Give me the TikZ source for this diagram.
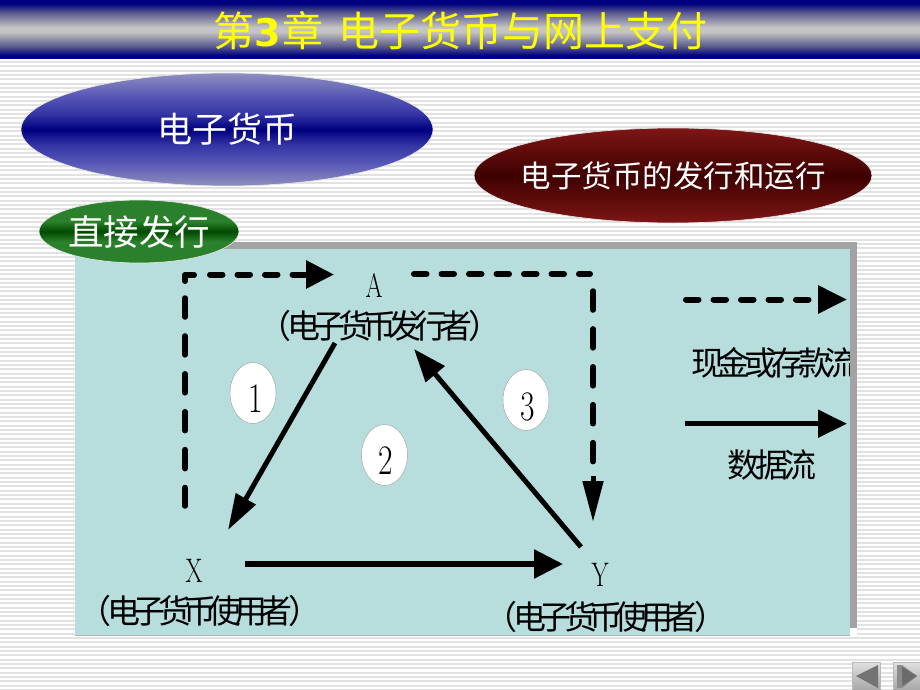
\documentclass[tikz,border=0pt]{standalone}
\usepackage{fontspec}
\usepackage{graphicx}
\usetikzlibrary{shapes.geometric,arrows.meta}
\newfontfamily\cjk{Noto Sans CJK SC}
\newfontfamily\cjktight[LetterSpace=-23]{Noto Sans CJK SC}
\newfontfamily\cjklegend[LetterSpace=-19]{Noto Sans CJK SC}
\newfontfamily\cjkdata[LetterSpace=-15]{Noto Sans CJK SC}
\newfontfamily\boldnum{DejaVu Sans Bold}
\definecolor{navyc}{HTML}{000080}
\definecolor{hdrmid}{HTML}{5C5C90}
\definecolor{hdrlight}{HTML}{C4C4C4}
\definecolor{panelc}{HTML}{B7DEDD}
\definecolor{shadowc}{HTML}{A3A3A3}
\definecolor{stripec}{HTML}{E2E2E2}
\pgfdeclareverticalshading{hdrshade}{100bp}{color(0bp)=(navyc); color(25bp)=(navyc); color(28bp)=(navyc); color(36bp)=(hdrmid); color(48bp)=(hdrlight); color(52bp)=(hdrlight); color(64bp)=(hdrmid); color(72bp)=(navyc); color(75bp)=(navyc); color(100bp)=(navyc)}
\definecolor{bl1}{HTML}{3535A5}\definecolor{bl2}{HTML}{5555B5}\definecolor{bl3}{HTML}{8F8FC0}
\pgfdeclareverticalshading{blueshade}{100bp}{color(0bp)=(bl3); color(25bp)=(bl3); color(35.5bp)=(bl2); color(43bp)=(bl1); color(50bp)=(navyc); color(57bp)=(bl1); color(64.5bp)=(bl2); color(75bp)=(bl3); color(100bp)=(bl3)}
\definecolor{rd0}{HTML}{3F0000}\definecolor{rd1}{HTML}{7E1616}
\pgfdeclareverticalshading{redshade}{100bp}{color(0bp)=(rd1); color(25bp)=(rd1); color(50bp)=(rd0); color(75bp)=(rd1); color(100bp)=(rd1)}
\definecolor{gr0}{HTML}{004A00}\definecolor{gr1}{HTML}{2B802B}
\pgfdeclareverticalshading{greenshade}{100bp}{color(0bp)=(gr1); color(25bp)=(gr1); color(42bp)=(gr1); color(50bp)=(gr0); color(58bp)=(gr1); color(75bp)=(gr1); color(100bp)=(gr1)}
\pgfdeclareverticalshading{btnshade}{100bp}{color(0bp)=(gray!70); color(25bp)=(gray!70); color(75bp)=(gray!25); color(100bp)=(gray!25)}
\tikzset{
  pill/.style={ellipse,inner sep=0pt,draw=white!78!gray,line width=0.7pt},
  pilltext/.style={text=white,inner sep=0pt},
  solidflow/.style={line width=5pt,draw=black},
  dashflowh/.style={line width=6pt,line cap=round,dash pattern=on 12.5pt off 15pt},
  dashflowv/.style={line width=5.5pt,line cap=round,dash pattern=on 19pt off 18.9pt},
  bubble/.style={ellipse,fill=white,draw=gray!70,line width=0.5pt,minimum width=46pt,minimum height=61pt,inner sep=0pt},
  numtext/.style={text=black,inner sep=0pt,font=\fontsize{42}{42}\selectfont},
  captext/.style={text=black,inner sep=0pt,font=\cjktight\fontsize{33}{33}\selectfont},
  legendtext/.style={text=black,inner sep=0pt,font=\cjklegend\fontsize{33}{33}\selectfont},
  datatext/.style={text=black,inner sep=0pt,font=\cjkdata\fontsize{33}{33}\selectfont},
  letter/.style={text=black,inner sep=0pt,font=\fontsize{34}{34}\selectfont},
  btn/.style={shading=btnshade,draw=gray!55,line width=1pt},
}
\begin{document}
\begin{tikzpicture}[x=1pt,y=-1pt]
\useasboundingbox (0,0) rectangle (920,690);
\fill[white] (0,0) rectangle (920,690);
% striped ground
\foreach \k in {0,...,147}{
  \fill[stripec] (0,{61+4.33*\k}) rectangle (920,{63+4.33*\k});
}
% title band
\path[shading=hdrshade] (0,0) rectangle (920,59);
\node[anchor=west,inner sep=0pt,text={rgb,255:red,255;green,255;blue,0}] (title) at (213,31)
  {\cjk\fontsize{41}{41}\selectfont 第{\boldnum\fontsize{38}{38}\selectfont 3}\kern2pt 章\hspace{15pt}电子货币与网上支付};
% panel
\fill[shadowc] (82,242) rectangle (857,628);
\fill[white] (850,628) rectangle (857,635);
\fill[panelc] (75,249) rectangle (850,635);
\draw[gray!60,line width=0.5pt] (75,635) -- (850,635);
% heading ellipses
\node[pill,shading=blueshade,minimum width=412pt,minimum height=113pt] (money) at (227,129.5) {};
\node[pilltext,font=\cjk\fontsize{35}{35}\selectfont] (moneyt) at (money.center) {电子货币};
\node[pill,shading=redshade,minimum width=398pt,minimum height=95pt] (issue) at (673,175.5) {};
\node[pilltext,font=\cjk\fontsize{30.5}{30.5}\selectfont] (issuet) at (issue.center) {电子货币的发行和运行};
\node[pill,shading=greenshade,minimum width=200pt,minimum height=63pt] (direct) at (139,231.5) {};
\node[pilltext,font=\cjk\fontsize{35.5}{35.5}\selectfont] (directt) at (direct.center) {直接发行};
% parties
\node[letter] (A) at (374,285.5) {\scalebox{.72}[1]{A}};
\node[captext] (Acap) at (380,326) {（\kern-4pt 电子货币发行者\kern-4pt）};
\node[letter] (X) at (194,570.5) {\scalebox{.72}[1]{X}};
\node[captext] (Xcap) at (200,611) {（\kern-4pt 电子货币使用者\kern-4pt）};
\node[letter] (Y) at (600,575) {\scalebox{.72}[1]{Y}};
\node[captext] (Ycap) at (606,617) {（\kern-4pt 电子货币使用者\kern-4pt）};
% numbered bubbles
\node[bubble] (n1) at (253,393) {};
\node[numtext] (n1t) at ([shift={(2.5,5.5)}]n1.center) {\scalebox{.75}[1]{1}};
\node[bubble] (n2) at (384.5,455) {};
\node[numtext] (n2t) at ([shift={(1,5.5)}]n2.center) {\scalebox{.75}[1]{2}};
\node[bubble] (n3) at (526,400) {};
\node[numtext] (n3t) at ([shift={(2,6.5)}]n3.center) {\scalebox{.75}[1]{3}};
% connector ends
\coordinate (c1a) at (335,343); \coordinate (c1b) at (228,530);
\coordinate (c2a) at (245,564); \coordinate (c2b) at (563,564);
\coordinate (c3a) at (581,547); \coordinate (c3b) at (414,349);
\coordinate (d1a) at (185,506); \coordinate (d1b) at (185,298);
\coordinate (d2a) at (185,281); \coordinate (d2b) at (185,275); \coordinate (d2c) at (194,275);
\coordinate (d3a) at (210,274.5); \coordinate (d3b) at (334,274.5);
\coordinate (d4a) at (414,274); \coordinate (d4b) at (590,274);
\coordinate (d5a) at (593,291); \coordinate (d5b) at (593,479);
\coordinate (d5c) at (593,476); \coordinate (d5d) at (593,522);
\coordinate (l1a) at (686,299.5); \coordinate (l1b) at (847,299.5);
\coordinate (l2a) at (685,423.7); \coordinate (l2b) at (847,423.7);
% data flows
\draw[solidflow,-{Triangle[length=36pt,width=22pt]}] (c1a) -- (c1b);
\draw[solidflow,line width=5.5pt,-{Triangle[length=29pt,width=28pt]}] (c2a) -- (c2b);
\draw[solidflow,-{Triangle[length=33pt,width=24pt]}] (c3a) -- (c3b);
% cash flows
\draw[dashflowv] (d1b) -- (d1a);
\draw[line width=6pt,line cap=round,line join=round] (d2a) -- (d2b) -- (d2c);
\draw[dashflowh,-{Triangle[length=28pt,width=27pt]}] (d3a) -- (d3b);
\draw[dashflowh] (d4a) -- (d4b);
\draw[dashflowv] (d5a) -- (d5b);
\draw[line width=5pt,-{Triangle[length=41pt,width=20pt]}] (d5c) -- (d5d);
% legend
\draw[dashflowh,-{Triangle[length=29pt,width=27pt]}] (l1a) -- (l1b);
\draw[solidflow,-{Triangle[length=29pt,width=27pt]}] (l2a) -- (l2b);
\node[legendtext,anchor=west] (cash) at (691,363) {现金或存款流};
\node[datatext] (data) at (772,465) {数据流};
% the shadow strip hides the end of the caption
\fill[shadowc] (850,340) rectangle (857,385);
% navigation buttons
\path[btn] (852.5,662.5) rectangle (880.5,691);
\path[btn] (893,662.5) rectangle (921,691);
\fill[black!55] (856,676) -- (878,665) -- (878,688) -- cycle;
\fill[black!45] (897,665) -- (902,665) -- (917,676) -- (902,688) -- (897,688) -- cycle;
\fill[black!58] (902,667) -- (917,676) -- (902,686) -- cycle;
\end{tikzpicture}
\end{document}
